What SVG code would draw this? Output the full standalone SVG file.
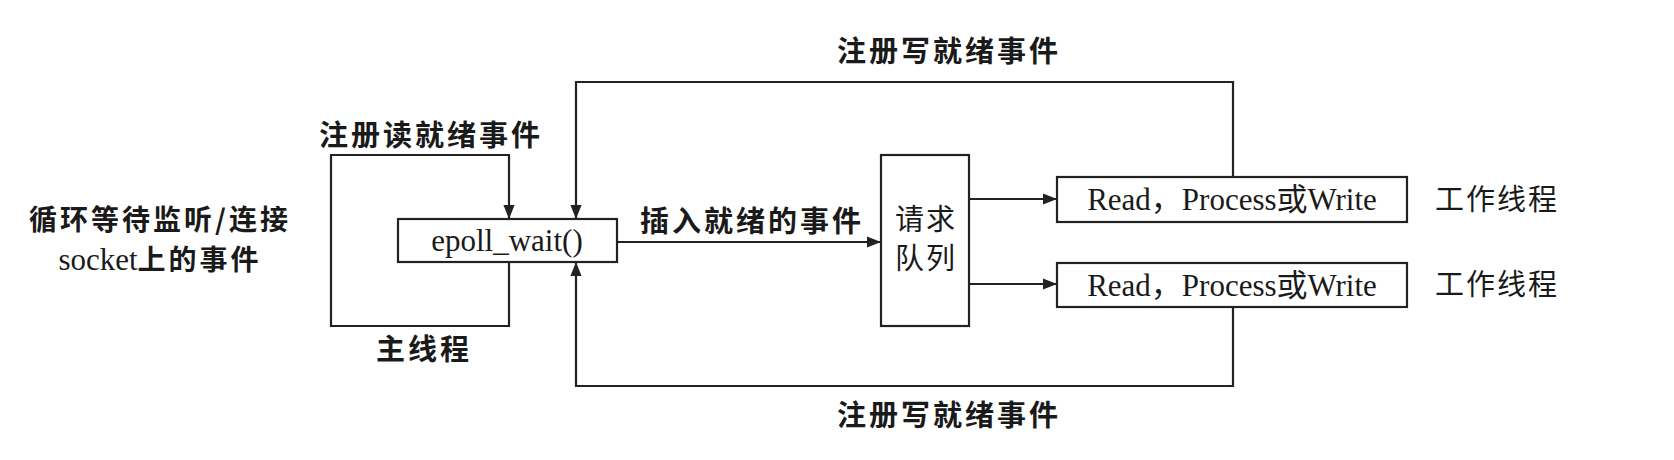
<svg xmlns="http://www.w3.org/2000/svg" width="1674" height="460" viewBox="0 0 1674 460">
<style>
.box{fill:#fff;stroke:#222;stroke-width:2.2}
.ln{fill:none;stroke:#222;stroke-width:2.2}
.lbl{font-family:"Noto Sans CJK SC","Liberation Sans",sans-serif;font-weight:bold;font-size:29px;letter-spacing:3px;fill:#1a1a1a;text-anchor:middle}
.nrm{font-family:"Noto Sans CJK SC","Liberation Sans",sans-serif;font-size:29px;letter-spacing:2px;fill:#1a1a1a;text-anchor:middle}
.cj{font-family:"Liberation Serif","Noto Sans CJK SC",serif;font-size:31px;fill:#1a1a1a;text-anchor:middle}
.ser{font-family:"Liberation Serif",serif;font-weight:normal;font-size:31px;letter-spacing:0}
</style>
<defs>
<marker id="ar" viewBox="0 0 10 10" refX="10" refY="5" markerWidth="14" markerHeight="14" markerUnits="userSpaceOnUse" orient="auto">
<path d="M0,1 L10,5 L0,9 Z" fill="#222"/>
</marker>
</defs>
<rect width="1674" height="460" fill="#fff"/>
<g id="connectors">
<path class="ln" d="M509,262 V326 H331 V155 H509 V219" marker-end="url(#ar)"/>
<path class="ln" d="M1233,177 V82 H576 V219" marker-end="url(#ar)"/>
<path class="ln" d="M1233,307 V386 H576 V262" marker-end="url(#ar)"/>
<path class="ln" d="M617,242 H881" marker-end="url(#ar)"/>
<path class="ln" d="M969,199 H1057" marker-end="url(#ar)"/>
<path class="ln" d="M969,284 H1057" marker-end="url(#ar)"/>
</g>
<g id="label-top"><text class="lbl" x="949" y="62">注册写就绪事件</text></g>
<g id="label-bottom"><text class="lbl" x="949" y="426">注册写就绪事件</text></g>
<g id="label-read"><text class="lbl" x="431" y="146">注册读就绪事件</text></g>
<g id="label-main"><text class="lbl" x="424" y="360">主线程</text></g>
<g id="label-loop"><text class="lbl" x="160" y="230" style="font-size:28px">循环等待监听/连接</text><text class="lbl" x="160" y="270" style="font-size:28px"><tspan class="ser">socket</tspan>上的事件</text></g>
<g id="label-insert"><text class="lbl" x="752" y="232">插入就绪的事件</text></g>
<g id="epoll"><rect class="box" x="398" y="219" width="219" height="43"/><text class="cj" x="507" y="251">epoll_wait()</text></g>
<g id="queue"><rect class="box" x="881" y="155" width="88" height="171"/><text class="nrm" x="926" y="230">请求</text><text class="nrm" x="926" y="269">队列</text></g>
<g id="worker1"><rect class="box" x="1057" y="177" width="350" height="45"/><text class="cj" x="1232" y="210">Read，Process或Write</text></g>
<g id="worker2"><rect class="box" x="1057" y="263" width="350" height="44"/><text class="cj" x="1232" y="296">Read，Process或Write</text></g>
<g id="worker-label1"><text class="nrm" x="1497" y="210">工作线程</text></g>
<g id="worker-label2"><text class="nrm" x="1497" y="295">工作线程</text></g>
</svg>
